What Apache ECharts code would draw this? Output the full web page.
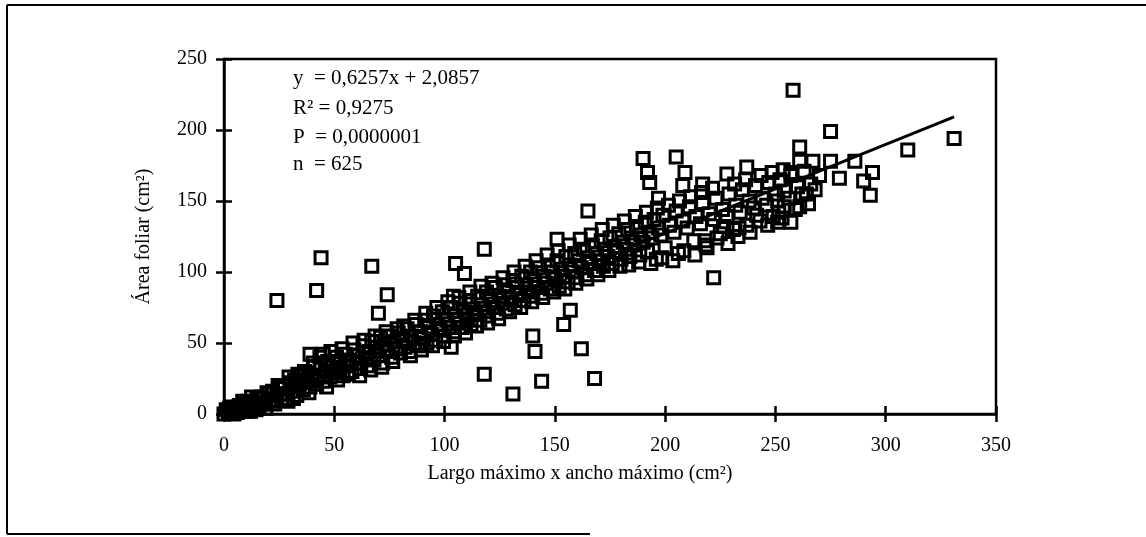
<!DOCTYPE html>
<html>
<head>
<meta charset="utf-8">
<title>Área foliar</title>
<script src="https://cdn.jsdelivr.net/npm/echarts@6.0.0/dist/echarts.min.js"></script>
<style>
  html, body { margin: 0; padding: 0; background: #fff; }
  #chart { width: 1146px; height: 537px; }
</style>
</head>
<body>
<div id="chart"></div>
<script>
// ticks
const xTicks = [0, 50, 100, 150, 200, 250, 300, 350];
const yTicks = [0, 50, 100, 150, 200, 250];

// regression reported on the chart
const slope = 0.6257;
const intercept = 2.0857;
const lineRange = [0, 331];
const statsLines = ['y  = 0,6257x + 2,0857', 'R² = 0,9275', 'P  = 0,0000001', 'n  = 625'];

// points (x = largo x ancho, y = área foliar)
const pointsLow = [
  [0,0],[1,3],[2,1],[3,5],[4,2],[5,4],[6,1],[7,6],[8,3],[9,7],[10,4],[11,9],[12,2],[13,8],[14,6],
  [15,11],[16,5],[17,12],[18,8],[19,4],[20,14],[21,10],[22,16],[23,7],[24,13],[25,18],[26,11],
  [27,20],[28,14],[29,9],[30,22],[31,16],[32,24],[33,13],[34,19],[35,27],[36,17],[37,22],[38,29],
  [39,19],[40,25],[41,33],[42,21],
  [43,27],[44,35],[45,23],[46,30],[47,37],[48,26],[49,33],[50,29],[51,40],[52,31],[53,36],[54,27],
  [55,42],[56,34],[57,38],[58,30],[59,45],[60,36],[61,41],[62,32],[63,48],[64,39],[65,34],[66,44],
  [67,51],[68,38],[69,47],[70,41],[71,54],[72,36],[73,49],[74,44],[75,55],[76,40],[77,51],[78,46],
  [79,57],[80,43]
];
const pointsMid = [
  [81,52],[82,47],[83,60],[84,44],[85,55],[86,50],[87,63],[88,48],[89,58],[90,53],[91,66],[92,50],
  [93,61],[94,56],[95,69],[96,52],[97,63],[98,59],[99,72],[100,55],[101,66],[102,61],[103,75],
  [104,58],[105,69],[106,64],[107,78],[108,61],[109,72],[110,67],[111,80],[112,63],[113,74],[114,70],
  [115,83],[116,66],[117,77],[118,72],[119,86],[120,69],[121,80],[122,75],[123,89],[124,71],[125,83],
  [126,78],[127,91],[128,74],[129,86],[130,81],
  [131,94],[132,77],[133,89],[134,84],[135,97],[136,80],[137,91],[138,86],[139,100],[140,83],[141,94],
  [142,89],[143,103],[144,85],[145,97],[146,92],[147,105],[148,88],[149,100],[150,95],[151,108],
  [152,90],[153,102],[154,97],[155,111],[156,93],[157,105],[158,100],[159,113],[160,96],[161,108],
  [162,103],[163,116],[164,98],[165,110],[166,106],[167,119],[168,101],[169,113],[170,108],[171,122],
  [172,104],[173,116],[174,111],[175,124],[176,106],[177,118],[178,114],[179,127],[180,109]
];
const pointsHigh = [
  [181,121],[182,116],[183,130],[184,111],[185,124],[186,119],[187,132],[188,107],[189,126],[190,121],
  [191,135],[192,114],[193,128],[194,124],[195,137],[196,109],[197,131],[198,126],[199,140],[200,117],
  [202,133],[204,128],[205,143],[206,113],[208,136],[210,131],[211,146],[213,122],[214,139],[216,134],
  [217,149],[219,117],[220,141],[222,137],[223,152],[225,127],[226,144],[228,139],[229,155],[231,130],
  [232,147],[234,142],[235,158],[237,133],[238,150],[240,145],[241,161],[243,136],[244,152],[246,147],
  [247,163],[249,139],[250,155],
  [251,150],[252,165],[253,138],[254,157],[256,152],[257,168],[259,144],[260,160],[262,155],[263,171],
  [265,148],[266,162],[268,158]
];
const pointsSpread = [
  [2.5,4],[4.5,0],[6.5,5],[8.5,9],[10.5,2],[12.5,12],[14.5,3],[17.5,7],[19.5,15],[22.5,9],[24.5,20],
  [26.5,14],[29.5,26],[31.5,11],[33.5,28],[36.5,30],[38.5,15],[40.5,36],
  [43.5,40],[46.5,19],[48.5,44],[51.5,24],[53.5,46],[56.5,28],[58.5,50],[61.5,27],[63.5,52],[66.5,31],
  [68.5,55],[71.5,33],[73.5,58],[76.5,37],[78.5,60],
  [81.5,62],[84.5,41],[86.5,66],[89.5,45],[91.5,71],[94.5,48],[96.5,75],[99.5,51],[101.5,79],[104.5,55],
  [106.5,82],[109.5,57],[111.5,86],[114.5,62],[116.5,90],[119.5,64],[121.5,92],[124.5,67],[126.5,96],
  [129.5,72],
  [131.5,100],[134.5,75],[136.5,104],[139.5,79],[141.5,108],[144.5,82],[146.5,112],[149.5,86],[151.5,115],
  [154.5,88],[156.5,119],[159.5,92],[161.5,123],[164.5,95],[166.5,126],[169.5,98],[171.5,130],[174.5,101],
  [176.5,133],[179.5,104],
  [181.5,136],[183.5,105],[186.5,139],[188.5,112],[191.5,142],[193.5,106],[196.5,145],[198.5,110],
  [201.5,147],[203.5,108],[206.5,150],[208.5,115],[211.5,153],[213.5,112],[216.5,156],[218.5,119],
  [221.5,159],[223.5,124],[226.5,132],[228.5,120],[231.5,162],[233.5,131],[236.5,165],[238.5,128],
  [241.5,140],[243.5,168],[246.5,133],[248.5,170],[251.5,142],[253.5,172]
];
const outliers = [
  [24,80],[44,110],[42,87],[67,104],[74,84],[70,71],[39,42],[45,42],[105,106],[103,47],[104,83],
  [109,99],[118,116],[118,28],[131,14],[144,23],[168,25],[140,55],[141,44],[162,46],[154,63],[157,73],
  [151,123],[165,143],[190,180],[192,170],[193,163],[197,152],[205,181],[209,170],[208,161],[217,162],
  [222,96],[228,169],[237,174],[258,228],[275,199],[261,188],[257,170],[257,135],[251,135],[261,146],
  [264,155],[254,146],[233,125],[218,122],[261,178],[267,178],[270,168],[275,178],[279,166],[286,178],
  [290,164],[294,170],[293,154],[310,186],[331,194]
];

const FONT = '"Liberation Serif", "DejaVu Serif", serif';
const chart = echarts.init(document.getElementById('chart'));

const allPoints = pointsLow.concat(pointsMid, pointsHigh, pointsSpread, outliers);
const trend = lineRange.map(x => [x, slope * x + intercept]);

const tickStyle = { color: '#000', width: 2.5 };

const option = {
  animation: false,
  backgroundColor: '#fff',
  grid: {
    left: 224, top: 59, right: 150, bottom: 123,
    show: true, borderColor: '#000', borderWidth: 2.5, backgroundColor: 'transparent'
  },
  xAxis: [{
    type: 'value', min: xTicks[0], max: xTicks[xTicks.length - 1], interval: 50,
    position: 'bottom',
    axisLine: { show: true, onZero: false, lineStyle: { color: '#000', width: 2.5 } },
    axisTick: { show: true, inside: false, length: 8, lineStyle: tickStyle },
    axisLabel: { margin: 22, fontFamily: FONT, fontSize: 20, color: '#000' },
    splitLine: { show: false },
    name: 'Largo máximo x ancho máximo (cm²)',
    nameLocation: 'middle', nameGap: 50,
    nameTextStyle: { fontFamily: FONT, fontSize: 20, color: '#000', padding: [0, 60, 0, 0] }
  }, {
    type: 'value', min: xTicks[0], max: xTicks[xTicks.length - 1], interval: 50,
    position: 'bottom',
    axisLine: { show: false },
    axisTick: { show: true, inside: true, length: 8, lineStyle: tickStyle },
    axisLabel: { show: false },
    splitLine: { show: false }
  }],
  yAxis: [{
    type: 'value', min: yTicks[0], max: yTicks[yTicks.length - 1], interval: 50,
    position: 'left',
    axisLine: { show: true, onZero: false, lineStyle: { color: '#000', width: 2.5 } },
    axisTick: { show: true, inside: false, length: 8, lineStyle: tickStyle },
    axisLabel: { margin: 17, fontFamily: FONT, fontSize: 20, color: '#000' },
    splitLine: { show: false },
    name: 'Área foliar (cm²)',
    nameLocation: 'middle', nameGap: 70,
    nameTextStyle: { fontFamily: FONT, fontSize: 20, color: '#000' }
  }, {
    type: 'value', min: yTicks[0], max: yTicks[yTicks.length - 1], interval: 50,
    position: 'left',
    axisLine: { show: false },
    axisTick: { show: true, inside: true, length: 8, lineStyle: tickStyle },
    axisLabel: { show: false },
    splitLine: { show: false }
  }],
  series: [{
    type: 'scatter',
    xAxisIndex: 0, yAxisIndex: 0,
    symbol: 'rect', symbolSize: 12,
    itemStyle: { color: 'rgba(0,0,0,0)', borderColor: '#000', borderWidth: 3, opacity: 1 },
    data: allPoints,
    z: 3
  }, {
    type: 'line',
    xAxisIndex: 0, yAxisIndex: 0,
    data: trend,
    symbol: 'none',
    lineStyle: { color: '#000', width: 3 },
    z: 4
  }],
  graphic: [
    { type: 'line', shape: { x1: 7, y1: 5, x2: 1146, y2: 5 }, style: { stroke: '#000', lineWidth: 2 } },
    { type: 'line', shape: { x1: 7, y1: 5, x2: 7, y2: 534 }, style: { stroke: '#000', lineWidth: 2 } },
    { type: 'line', shape: { x1: 7, y1: 534, x2: 590, y2: 534 }, style: { stroke: '#000', lineWidth: 2 } }
  ].concat(statsLines.map((t, i) => ({
    type: 'text',
    x: 293, y: [78, 108, 137, 164][i],
    style: { text: t, font: '21px ' + FONT, fill: '#000', textVerticalAlign: 'middle', verticalAlign: 'middle' },
    z: 10
  })))
};

chart.setOption(option);
</script>
</body>
</html>
